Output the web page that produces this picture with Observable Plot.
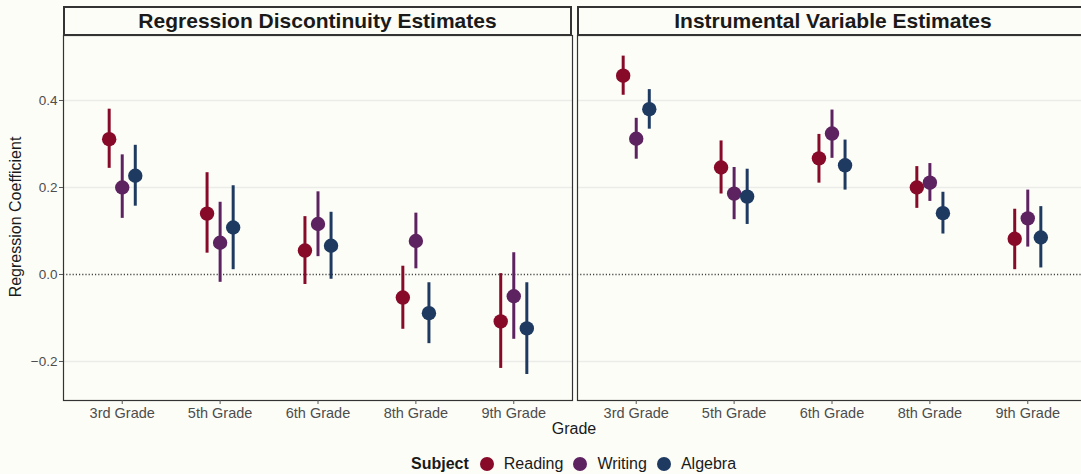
<!DOCTYPE html>
<html>
<head>
<meta charset="utf-8">
<script src="https://cdn.jsdelivr.net/npm/d3@7"></script>
<script src="https://cdn.jsdelivr.net/npm/@observablehq/plot@0.6"></script>
<style>
  html, body { margin: 0; padding: 0; background: #fdfdf8; }
  body { font-family: "Liberation Sans", Arial, sans-serif; }
  #root { position: relative; width: 1081px; height: 474px; overflow: hidden; background: #fdfdf8; }
  .abs { position: absolute; }
  .strip { position: absolute; box-sizing: border-box; border: 2px solid #333; background: #fdfdf8;
           font-weight: bold; font-size: 21px; color: #1a1a1a; text-align: center; line-height: 26px; }
  .legend { position: absolute; top: 454px; left: 411px; height: 20px; display: flex; align-items: center;
            font-size: 16px; color: #1a1a1a; white-space: nowrap; }
  .legend .sw { display: inline-block; width: 14px; height: 14px; border-radius: 50%; margin-right: 10px; }
</style>
</head>
<body>
<div id="root"></div>
<script>
// ---- data ----
const grades = ["3rd Grade", "5th Grade", "6th Grade", "8th Grade", "9th Grade"];
const subjects = ["Reading", "Writing", "Algebra"];
const panelTitles = ["Regression Discontinuity Estimates", "Instrumental Variable Estimates"];
const yTicks = [-0.2, 0.0, 0.2, 0.4];

// Regression discontinuity: estimate, lower, upper
const rdReading    = [0.311, 0.140, 0.055, -0.053, -0.108];
const rdReadingLo  = [0.244, 0.049, -0.023, -0.126, -0.216];
const rdReadingHi  = [0.380, 0.234, 0.133, 0.019, 0.002];
const rdWriting    = [0.200, 0.073, 0.116, 0.077, -0.050];
const rdWritingLo  = [0.129, -0.018, 0.041, 0.013, -0.149];
const rdWritingHi  = [0.275, 0.166, 0.190, 0.141, 0.050];
const rdAlgebra    = [0.227, 0.108, 0.066, -0.089, -0.124];
const rdAlgebraLo  = [0.157, 0.011, -0.011, -0.159, -0.230];
const rdAlgebraHi  = [0.297, 0.204, 0.143, -0.019, -0.019];

// Instrumental variable: estimate, lower, upper
const ivReading    = [0.457, 0.246, 0.267, 0.200, 0.082];
const ivReadingLo  = [0.412, 0.185, 0.210, 0.152, 0.011];
const ivReadingHi  = [0.502, 0.307, 0.322, 0.248, 0.150];
const ivWriting    = [0.312, 0.186, 0.324, 0.211, 0.129];
const ivWritingLo  = [0.265, 0.126, 0.267, 0.168, 0.063];
const ivWritingHi  = [0.359, 0.246, 0.378, 0.255, 0.194];
const ivAlgebra    = [0.380, 0.179, 0.251, 0.141, 0.085];
const ivAlgebraLo  = [0.334, 0.115, 0.194, 0.093, 0.015];
const ivAlgebraHi  = [0.425, 0.242, 0.309, 0.189, 0.156];

// ---- styling ----
const colors = ["#870a29", "#5d2260", "#1e3a61"];
const FONT = '"Liberation Sans", Arial, sans-serif';
const dodge = 0.4 / 3;

function buildRows(series) {
  const rows = [];
  series.forEach(([est, lo, hi], si) => {
    grades.forEach((g, gi) => {
      rows.push({grade: g, subject: subjects[si], pos: gi + 1 + (si - 1) * dodge,
                 est: est[gi], lo: lo[gi], hi: hi[gi]});
    });
  });
  return rows;
}
const rdRows = buildRows([[rdReading, rdReadingLo, rdReadingHi],
                          [rdWriting, rdWritingLo, rdWritingHi],
                          [rdAlgebra, rdAlgebraLo, rdAlgebraHi]]);
const ivRows = buildRows([[ivReading, ivReadingLo, ivReadingHi],
                          [ivWriting, ivWritingLo, ivWritingHi],
                          [ivAlgebra, ivAlgebraLo, ivAlgebraHi]]);

const root = document.getElementById("root");
const yDomain = [-0.2897, 0.5494];

function panel(rows, showY, opts) {
  const marks = [
    Plot.gridY(yTicks.filter(v => v !== 0), {stroke: "#ebebe8", strokeOpacity: 1, strokeWidth: 1.3}),
    Plot.ruleY([0], {stroke: "#444", strokeWidth: 1.3, strokeDasharray: "1.2,2"}),
    Plot.frame({stroke: "#333", strokeWidth: 1.2}),
    Plot.ruleX(rows, {x: "pos", y1: "lo", y2: "hi", stroke: "subject", strokeWidth: 3}),
    Plot.dot(rows, {x: "pos", y: "est", fill: "subject", r: 7.2, stroke: "none"}),
    Plot.axisX(d3.range(1, grades.length + 1), {tickSize: 4, tickPadding: 3, fill: "#4d4d4d",
      fontSize: 14.5, stroke: "#555", tickFormat: i => grades[i - 1], label: null})
  ];
  if (showY) {
    marks.push(Plot.axisY(yTicks, {tickSize: 4, tickPadding: 2, fill: "#4d4d4d", stroke: "#555",
      fontSize: 13.5, tickFormat: d3.format(".1f"), label: null}));
  }
  return Plot.plot({
    width: opts.width, height: 395,
    marginLeft: opts.ml, marginRight: opts.mr, marginTop: 0, marginBottom: 30,
    style: {background: "transparent", fontFamily: FONT, fontSize: "13px", overflow: "visible"},
    x: {type: "linear", domain: [0.4, 5.6]},
    y: {domain: yDomain, axis: showY ? undefined : null},
    color: {domain: subjects, range: colors},
    marks
  });
}

const left = panel(rdRows, true, {width: 575, ml: 63, mr: 3});
left.style.position = "absolute"; left.style.left = "0px"; left.style.top = "35px";
root.appendChild(left);

const right = panel(ivRows, false, {width: 514, ml: 5, mr: 0});
right.style.position = "absolute"; right.style.left = "572px"; right.style.top = "35px";
root.appendChild(right);

// strips
[[63, 509], [577, 512]].forEach(([x, w], i) => {
  const s = document.createElement("div");
  s.className = "strip";
  s.style.left = x + "px"; s.style.top = "6px"; s.style.width = w + "px"; s.style.height = "30px";
  s.textContent = panelTitles[i];
  root.appendChild(s);
});

// axis titles
const yt = document.createElement("div");
yt.className = "abs";
yt.textContent = "Regression Coefficient";
Object.assign(yt.style, {left: "16px", top: "217px", transform: "translate(-50%,-50%) rotate(-90deg)",
  fontSize: "16px", color: "#1a1a1a", whiteSpace: "nowrap"});
root.appendChild(yt);

const xt = document.createElement("div");
xt.className = "abs";
xt.textContent = "Grade";
Object.assign(xt.style, {left: "574px", top: "429px", transform: "translate(-50%,-50%)",
  fontSize: "16px", color: "#1a1a1a", whiteSpace: "nowrap"});
root.appendChild(xt);

// legend
const lg = document.createElement("div");
lg.className = "legend";
const lt = document.createElement("span");
lt.textContent = "Subject"; lt.style.fontWeight = "bold"; lt.style.marginRight = "11px";
lg.appendChild(lt);
subjects.forEach((s, i) => {
  const sw = document.createElement("span");
  sw.className = "sw"; sw.style.background = colors[i];
  lg.appendChild(sw);
  const t = document.createElement("span");
  t.textContent = s; t.style.marginRight = i < subjects.length - 1 ? "10px" : "0";
  lg.appendChild(t);
});
root.appendChild(lg);
</script>
</body>
</html>
